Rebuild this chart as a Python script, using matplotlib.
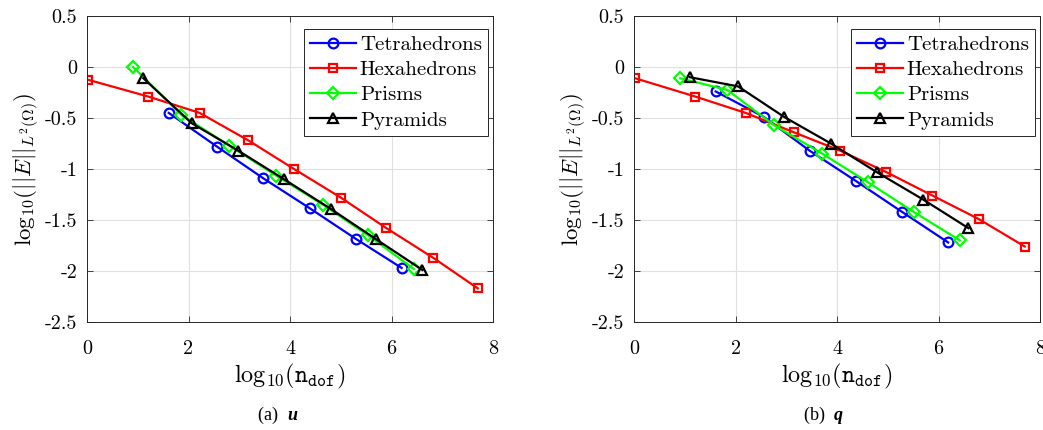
import numpy as np
import matplotlib
matplotlib.use("Agg")
import matplotlib.pyplot as plt

plt.rcParams['font.family'] = 'serif'
plt.rcParams['font.serif'] = ['cmr10']
plt.rcParams['mathtext.fontset'] = 'cm'
plt.rcParams['axes.unicode_minus'] = False
plt.rcParams['axes.formatter.use_mathtext'] = True

# data: panel (a) u
u_tet_x = [1.61, 2.56, 3.47, 4.39, 5.30, 6.20]
u_tet_y = [-0.45, -0.78, -1.09, -1.385, -1.686, -1.97]
u_hex_x = [0.02, 1.21, 2.22, 3.18, 4.08, 5.00, 5.90, 6.82, 7.70]
u_hex_y = [-0.125, -0.29, -0.45, -0.72, -1.00, -1.28, -1.58, -1.87, -2.17]
u_pri_x = [0.91, 1.86, 2.80, 3.73, 4.65, 5.54, 6.44]
u_pri_y = [0.0, -0.47, -0.77, -1.065, -1.35, -1.65, -1.98]
u_pyr_x = [1.11, 2.06, 2.98, 3.88, 4.80, 5.70, 6.61]
u_pyr_y = [-0.11, -0.55, -0.82, -1.10, -1.39, -1.69, -1.99]

# data: panel (b) q
q_tet_x = [1.61, 2.56, 3.46, 4.38, 5.28, 6.19]
q_tet_y = [-0.24, -0.49, -0.82, -1.12, -1.42, -1.72]
q_hex_x = [0.02, 1.21, 2.20, 3.15, 4.06, 4.97, 5.88, 6.79, 7.70]
q_hex_y = [-0.11, -0.29, -0.45, -0.64, -0.82, -1.03, -1.26, -1.49, -1.76]
q_pri_x = [0.91, 1.84, 2.76, 3.71, 4.61, 5.51, 6.42]
q_pri_y = [-0.11, -0.225, -0.57, -0.85, -1.13, -1.42, -1.70]
q_pyr_x = [1.10, 2.05, 2.96, 3.88, 4.78, 5.70, 6.59]
q_pyr_y = [-0.10, -0.19, -0.49, -0.75, -1.03, -1.30, -1.58]

names = ['Tetrahedrons', 'Hexahedrons', 'Prisms', 'Pyramids']
colors = ['#0000ff', '#ff0000', '#00ff00', '#000000']
markers = ['o', 's', 'D', '^']
msizes = [7, 6, 6, 7.5]
xticks = [0, 2, 4, 6, 8]
yticks = [-2.5, -2, -1.5, -1, -0.5, 0, 0.5]
ytick_labels = ['-2.5', '-2', '-1.5', '-1', '-0.5', '0', '0.5']

panels = [
    ([(u_tet_x, u_tet_y), (u_hex_x, u_hex_y), (u_pri_x, u_pri_y), (u_pyr_x, u_pyr_y)], '(a)  ', 'u'),
    ([(q_tet_x, q_tet_y), (q_hex_x, q_hex_y), (q_pri_x, q_pri_y), (q_pyr_x, q_pyr_y)], '(b)  ', 'q'),
]

fig = plt.figure(figsize=(10.43, 4.30), dpi=100)
lefts = [87 / 1043, 634 / 1043]
w = 406 / 1043
b = 1 - 322 / 430
h = 306 / 430

for k, (series, cap, sym) in enumerate(panels):
    ax = fig.add_axes([lefts[k], b, w, h])
    for (x, y), nm, c, m, ms in zip(series, names, colors, markers, msizes):
        ax.plot(x, y, color=c, marker=m, markersize=ms, markerfacecolor='none',
                markeredgewidth=1.6, linewidth=1.6, label=nm)
    ax.set_xlim(0, 8)
    ax.set_ylim(-2.5, 0.5)
    ax.set_xticks(xticks)
    ax.set_xticklabels([str(t) for t in xticks])
    ax.set_yticks(yticks)
    ax.set_yticklabels(ytick_labels)
    ax.grid(True, color='#e0e0e0', linewidth=0.8)
    ax.set_axisbelow(True)
    ax.tick_params(direction='in', top=True, right=True, labelsize=14.5,
                   color='#262626', length=4, width=0.6)
    ax.tick_params(axis='x', pad=13)
    ax.tick_params(axis='y', pad=7)
    for s in ax.spines.values():
        s.set_color('#262626')
        s.set_linewidth(0.7)
    ax.set_xlabel(r'$\mathrm{log}_{10}(\mathtt{n}_{\mathtt{dof}})$', fontsize=17.5, labelpad=3)
    ax.set_ylabel(r'$\mathrm{log}_{10}(||E||_{L^2(\Omega)})$', fontsize=16.5, labelpad=3)
    leg = ax.legend(loc='upper right', bbox_to_anchor=(0.988, 0.957), fontsize=15,
                    fancybox=False, framealpha=1, edgecolor='#262626', borderpad=0.3,
                    labelspacing=0.32, handlelength=2.2, handletextpad=0.2,
                    borderaxespad=0)
    leg.get_frame().set_linewidth(0.7)
    cx = lefts[k] + w / 2 - 0.003
    fig.text(cx, 1 - 420 / 430, cap, ha='right', va='baseline', fontsize=13,
             family='Liberation Serif')
    fig.text(cx, 1 - 420 / 430, sym, ha='left', va='baseline', fontsize=13,
             family='Liberation Serif', weight='bold', style='italic')

fig.savefig('out.png', dpi=100)
